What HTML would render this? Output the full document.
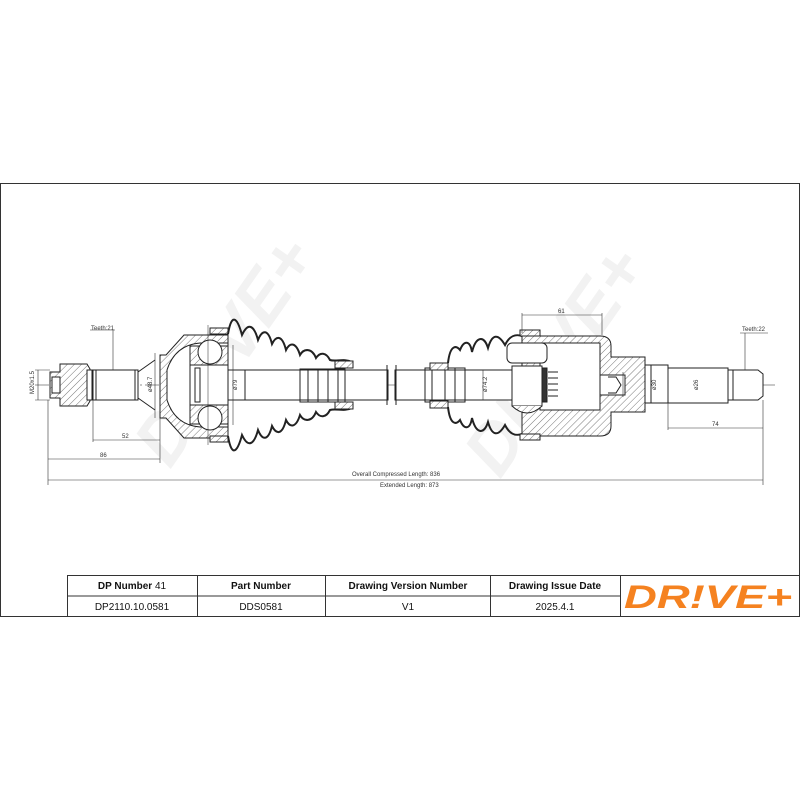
<!DOCTYPE html>
<html><head><meta charset="utf-8"><style>
html,body{margin:0;padding:0;background:#fff}
svg{display:block}
text{font-family:"Liberation Sans",sans-serif}
</style></head><body>
<svg width="800" height="800" viewBox="0 0 800 800" xmlns="http://www.w3.org/2000/svg">
<defs>
<pattern id="h" width="5" height="5" patternUnits="userSpaceOnUse" patternTransform="rotate(45)">
<rect width="5" height="5" fill="#fff"/><line x1="0" y1="0" x2="0" y2="5" stroke="#555" stroke-width="0.8"/>
</pattern>
</defs>
<rect x="0" y="0" width="800" height="800" fill="#fff"/>
<!-- watermark -->
<g fill="#f2f2f2" font-weight="bold" font-size="70" font-style="italic">
<text transform="translate(170,470) rotate(-55)">DR!VE+</text>
<text transform="translate(500,480) rotate(-55)">DR!VE+</text>
</g>
<!-- frame -->
<rect x="0.5" y="183.5" width="799" height="433" fill="none" stroke="#333" stroke-width="1"/>

<g stroke="#222" stroke-width="1" fill="none">
<!-- centerline -->
<line x1="35" y1="385" x2="775" y2="385" stroke-dasharray="14,3,2,3" stroke-width="0.6"/>
<!-- left nut -->
<path d="M50,372 h10 v-8 h27 l3,5 v32 l-3,5 h-27 v-8 h-10 z" fill="url(#h)"/>
<rect x="52" y="377" width="8" height="16" fill="#fff"/>
<rect x="87" y="370" width="5" height="30" fill="#fff"/>
<!-- spline stub -->
<rect x="93" y="370" width="45" height="30" fill="#fff"/>
<line x1="96" y1="370" x2="96" y2="400"/>
<line x1="135" y1="370" x2="135" y2="400"/>
<path d="M138,372 L155,360 M138,398 L155,410"/>
<!-- flange + bell -->
<path d="M160,355 h6 l18,-20 h44 v103 h-44 l-18,-20 h-6 z" fill="url(#h)"/>
<path d="M167,370 Q175,345 200,343 h28 v84 h-28 Q175,425 167,400 z" fill="#fff"/>
<rect x="190" y="346" width="38" height="78" fill="url(#h)"/>
<circle cx="210" cy="352" r="12" fill="#fff"/>
<circle cx="210" cy="418" r="12" fill="#fff"/>
<rect x="190" y="365" width="38" height="40" fill="#fff"/>
<rect x="195" y="368" width="5" height="34" fill="#fff"/>
<rect x="210" y="328" width="18" height="6" fill="url(#h)"/>
<rect x="210" y="436" width="18" height="6" fill="url(#h)"/>
<line x1="208" y1="325" x2="208" y2="445" stroke-width="0.5"/>
<!-- left boot -->
<path d="M228,334 C232,310 238,320 242,335 C248,322 254,325 258,340 C262,330 268,328 272,344 C276,336 282,334 286,350 C290,342 296,342 300,355 C304,348 312,348 316,358 C320,352 326,352 330,360 C336,362 344,358 352,362" stroke-width="2"/>
<path d="M228,436 C232,460 238,450 242,435 C248,448 254,445 258,430 C262,440 268,442 272,426 C276,434 282,436 286,420 C290,428 296,428 300,415 C304,422 312,422 316,412 C320,418 326,418 330,410 C336,408 344,412 352,408" stroke-width="2"/>
<rect x="335" y="361" width="18" height="7" fill="url(#h)"/>
<rect x="335" y="402" width="18" height="7" fill="url(#h)"/>
<!-- shaft -->
<rect x="228" y="370" width="160" height="30" fill="#fff"/>
<line x1="245" y1="370" x2="245" y2="400"/>
<path d="M300,369 h45 v33 h-45 z"/>
<line x1="308" y1="369" x2="308" y2="402"/><line x1="318" y1="369" x2="318" y2="402"/><line x1="328" y1="369" x2="328" y2="402"/><line x1="338" y1="369" x2="338" y2="402"/>
<rect x="395" y="370" width="130" height="30" fill="#fff"/>
<line x1="387" y1="365" x2="387" y2="405"/><line x1="396" y1="365" x2="396" y2="405"/>
<path d="M425,368 h40 v34 h-40 z"/>
<line x1="432" y1="368" x2="432" y2="402"/><line x1="445" y1="368" x2="445" y2="402"/><line x1="455" y1="368" x2="455" y2="402"/>
<rect x="430" y="363" width="18" height="7" fill="url(#h)"/>
<rect x="430" y="401" width="18" height="7" fill="url(#h)"/>
<!-- right boot -->
<path d="M448,363 C450,345 456,345 460,350 C464,340 470,340 472,352 C476,336 484,335 488,348 C492,334 498,333 505,345 C510,335 516,334 522,336" stroke-width="2"/>
<path d="M448,407 C450,425 456,425 460,420 C464,430 470,430 472,418 C476,434 484,435 488,422 C492,436 498,437 505,425 C510,435 516,436 522,434" stroke-width="2"/>
<!-- tripod housing -->
<path d="M522,336 h78 q11,0 11,10 v11 h34 v55 h-34 v14 q0,10 -11,10 h-78 z" fill="url(#h)"/>
<path d="M540,343 h60 v67 h-60 z" fill="#fff"/>
<rect x="600" y="375" width="25" height="20" fill="#fff"/>
<rect x="520" y="330" width="20" height="6" fill="url(#h)"/>
<rect x="520" y="434" width="20" height="6" fill="url(#h)"/>
<!-- tripod roller -->
<rect x="507" y="343" width="40" height="20" rx="5" fill="#fff"/>
<rect x="512" y="366" width="30" height="40" fill="#fff"/>
<path d="M512,406 q15,14 30,0" fill="url(#h)"/>
<rect x="542" y="368" width="5" height="34" fill="#333"/>
<path d="M548,372 h10 M548,378 h10 M548,384 h10 M548,390 h10 M548,396 h10"/>
<path d="M608,377 l8,0 l5,8 l-5,8 l-8,0" />
<!-- right stub -->
<rect x="645" y="365" width="23" height="38" fill="#fff"/>
<line x1="651" y1="365" x2="651" y2="403"/>
<rect x="668" y="368" width="60" height="35" fill="#fff"/>
<path d="M728,370 h30 l5,4 v22 l-5,4 h-30 z" fill="#fff"/>
<line x1="733" y1="370" x2="733" y2="400"/>
</g>

<!-- dimensions -->
<g stroke="#333" stroke-width="0.6" fill="none">
<path d="M113,330 v40 M90,330 h25"/>
<path d="M93,400 v42 M160,418 v45 M93,440 h67 M48,400 v85 M48,459 h112 M48,480 h715 M763,400 v85"/>
<path d="M155,353 v65"/>
<path d="M233,345 v80"/>
<path d="M522,313 v20 M602,313 v22 M522,315 h80"/>
<path d="M668,403 v27 M668,428 h95"/>
<path d="M745,333 v37 M740,333 h28"/>
<path d="M38,370 v30 M35,370 h15 M35,400 h15"/>
<path d="M623,372 v25 M668,370 v30"/>
<path d="M483,370 v30"/>
</g>
<g font-size="6" fill="#333">
<text x="91" y="330">Teeth:21</text>
<text x="742" y="331">Teeth:22</text>
<text x="122" y="438">52</text>
<text x="100" y="457">86</text>
<text x="558" y="313">61</text>
<text x="712" y="426">74</text>
<text x="352" y="476">Overall  Compressed  Length: 836</text>
<text x="380" y="487">Extended  Length: 873</text>
<text transform="translate(34,394) rotate(-90)">M20x1.5</text>
<text transform="translate(152,392) rotate(-90)">ø48.7</text>
<text transform="translate(237,390) rotate(-90)">ø79</text>
<text transform="translate(487,392) rotate(-90)">ø74.2</text>
<text transform="translate(656,390) rotate(-90)">ø30</text>
<text transform="translate(698,390) rotate(-90)">ø26</text>
</g>

<!-- table -->
<g stroke="#333" stroke-width="1" fill="none">
<rect x="67.5" y="575.5" width="732" height="41"/>
<line x1="67" y1="596" x2="620" y2="596"/>
<line x1="197.5" y1="575" x2="197.5" y2="617"/>
<line x1="325.5" y1="575" x2="325.5" y2="617"/>
<line x1="490.5" y1="575" x2="490.5" y2="617"/>
<line x1="620.5" y1="575" x2="620.5" y2="617"/>
</g>
<g font-size="10" fill="#111" text-anchor="middle">
<text x="132" y="589" font-weight="bold">DP Number <tspan font-weight="normal">41</tspan></text>
<text x="261" y="589" font-weight="bold">Part Number</text>
<text x="408" y="589" font-weight="bold">Drawing Version Number</text>
<text x="555" y="589" font-weight="bold">Drawing Issue Date</text>
<text x="132" y="610">DP2110.10.0581</text>
<text x="261" y="610">DDS0581</text>
<text x="408" y="610">V1</text>
<text x="555" y="610">2025.4.1</text>
</g>
<text x="708" y="608" font-size="32" font-weight="bold" font-style="italic" fill="#f58220" text-anchor="middle" textLength="168" lengthAdjust="spacingAndGlyphs">DR!VE+</text>
</svg>
</body></html>
